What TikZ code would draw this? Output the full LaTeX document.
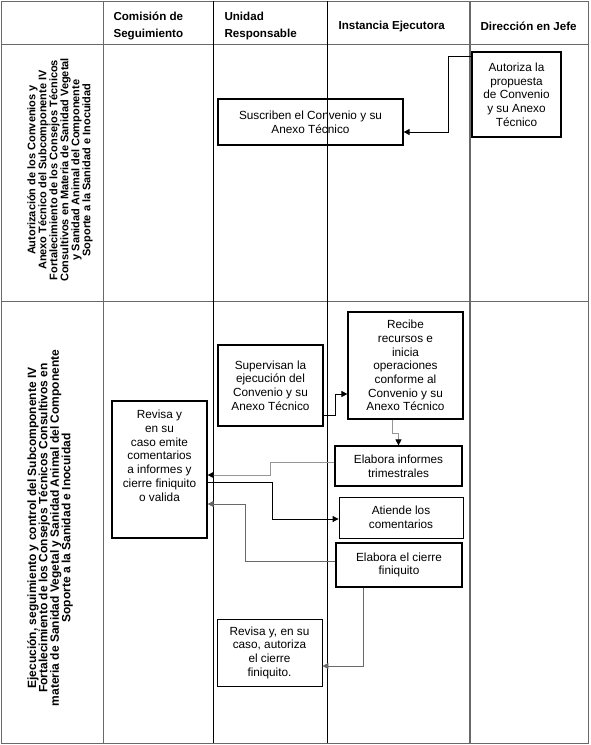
\documentclass[tikz,border=0pt]{standalone}
\usepackage{fontspec}
\setmainfont{Liberation Sans}
\usetikzlibrary{arrows.meta,positioning}
\definecolor{gridgray}{RGB}{105,105,105}
\definecolor{linegray}{RGB}{150,150,150}

\begin{document}
\begin{tikzpicture}[x=1pt, y=-1pt,
  stepbox/.style={rectangle, draw=black, line width=1.2pt, align=center,
                  inner sep=2pt, font=\fontsize{11.8}{13.7}\selectfont},
  thinbox/.style={stepbox, line width=0.8pt},
  head/.style={anchor=west, align=left, font=\fontsize{11.6}{17}\selectfont\bfseries},
  lane/.style={rotate=90, align=center, font=\fontsize{11}{11}\selectfont\bfseries},
  arr/.style={-{Triangle[length=6pt,width=6pt]}, line width=0.8pt},
  grayarr/.style={-{Triangle[length=6pt,width=6pt,color=black]}, line width=0.8pt, draw=linegray}
]
\useasboundingbox (0,0) rectangle (590,745);

% Table
\draw[gridgray, line width=1pt] (1,1) rectangle (588,743);
\draw[gridgray] (1,44) -- (588,44);
\draw[gridgray] (1,301) -- (588,301);
\draw[gridgray] (103,1) -- (103,743);
\draw[black] (213,1) -- (213,743);
\draw[black] (327,1) -- (327,743);
\draw[gridgray, line width=1.5pt] (470,1) -- (470,743);

% Header
\node[head] (hcom)  at (110,26) {Comisión de\\Seguimiento};
\node[head] (hur)   at (221,26) {Unidad\\Responsable};
\node[head] (hie)   at (335,26) {Instancia Ejecutora};
\node[head] (hdir)  at (477,26) {Dirección en Jefe};

% Lanes
\node[lane] (lane1) at (60,170)
  {Autorización de los Convenios y\\Anexo Técnico del Subcomponente IV\\Fortalecimiento de los Consejos Técnicos\\Consultivos en Materia de Sanidad Vegetal\\y Sanidad Animal del Componente\\Soporte a la Sanidad e Inocuidad};
\node[lane, font=\fontsize{12}{11.4}\selectfont\bfseries] (lane2) at (50,528)
  {Ejecución, seguimiento y control del Subcomponente IV\\Fortalecimiento de los Consejos Técnicos Consultivos en\\materia de Sanidad Vegetal y Sanidad Animal del Componente\\Soporte a la Sanidad e Inocuidad};

% Steps
\node[stepbox, minimum width=89pt, minimum height=85pt] (autoriza) at (516.5,94.5)
  {Autoriza la\\propuesta\\de Convenio\\y su Anexo\\Técnico};
\node[stepbox, minimum width=185pt, minimum height=46pt] (suscriben) at (310.5,122)
  {Suscriben el Convenio y su\\Anexo Técnico};
\node[stepbox, minimum width=105pt, minimum height=81pt] (supervisan) at (270.5,385.5)
  {Supervisan la\\ejecución del\\Convenio y su\\Anexo Técnico};
\node[stepbox, minimum width=115pt, minimum height=107pt] (recibe) at (405.5,365.5)
  {Recibe\\recursos e\\inicia\\operaciones\\conforme al\\Convenio y su\\Anexo Técnico};
\node[stepbox, minimum width=95pt, minimum height=137pt] (revisa) at (159.5,469.5)
  {Revisa y\\en su\\caso emite\\comentarios\\a informes y\\cierre finiquito\\o valida\\[14pt]};
\node[stepbox, minimum width=127pt, minimum height=40pt] (informes) at (398.5,466)
  {Elabora informes\\trimestrales};
\node[thinbox, minimum width=124pt, minimum height=41pt] (atiende) at (401,517.5)
  {Atiende los\\comentarios};
\node[stepbox, minimum width=126pt, minimum height=44pt] (cierre) at (399,565)
  {Elabora el cierre\\finiquito};
\node[thinbox, minimum width=105pt, minimum height=67pt] (autcierre) at (269.5,652.5)
  {Revisa y, en su\\caso, autoriza\\el cierre\\finiquito.};

% Arrows
\draw[arr] ([yshift=-5pt]autoriza.north west) -- ++(-23,0) |- ([yshift=-10pt]suscriben.east);
\draw[arr] ([yshift=-29.5pt]supervisan.east) -- ++(12,0) |- ([yshift=-28.5pt]recibe.west);
\draw[grayarr] ([xshift=-13.5pt]recibe.south) -- ++(0,14) -| (informes.north);
\draw[grayarr] ([yshift=4pt]informes.west) -- ++(-64,0) |- ([yshift=-5.5pt]revisa.east);
\draw[arr] ([yshift=-12.5pt]revisa.east) -- ++(65,0) |- ([yshift=-1.5pt]atiende.west);
\draw[arr, draw=gridgray] ([yshift=4pt]cierre.west) -- ++(-90,0) |- ([yshift=-34.5pt]revisa.east);
\draw[arr, draw=gridgray] ([xshift=-36pt]cierre.south) |- ([yshift=-13.5pt]autcierre.east);
\end{tikzpicture}
\end{document}
